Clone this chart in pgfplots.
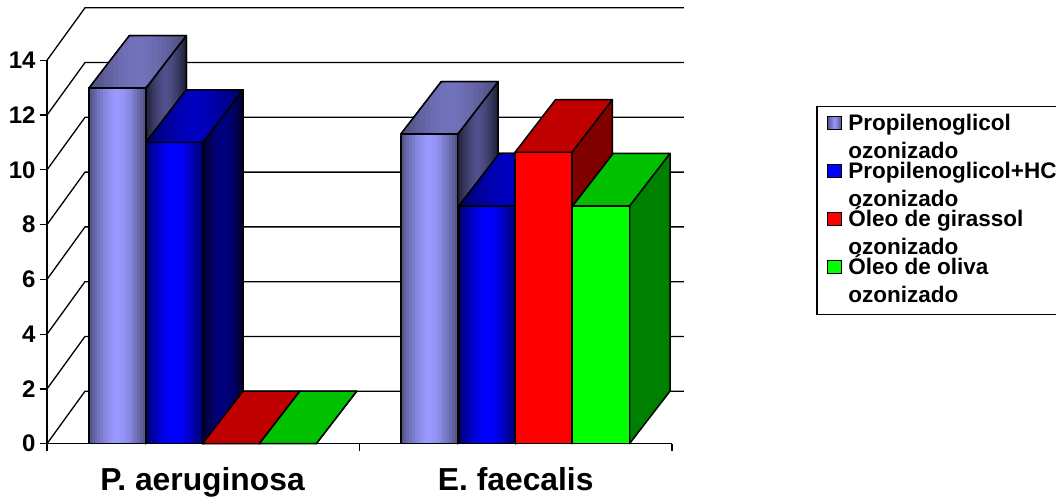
\documentclass[border=0pt]{standalone}
\usepackage{fontspec}
\setmainfont{Liberation Sans}
\usepackage{pgfplots}
\pgfplotsset{compat=1.18}

% Depth of the 3D projection, in axis units
\newcommand{\bdx}{0.1296}
\newcommand{\bdy}{1.92}
\newcommand{\gdx}{0.1216}
\newcommand{\gdy}{1.917}
\newcommand{\gend}{2.038}
\newcommand{\bw}{0.182}

\definecolor{lilacD}{HTML}{55558A}
\definecolor{lilacL}{HTML}{9999FF}
\definecolor{lilacTD}{HTML}{4F4F80}
\definecolor{lilacTL}{HTML}{7272BC}
\definecolor{lilacSD}{HTML}{22223A}
\definecolor{lilacSL}{HTML}{50508A}
\definecolor{blueD}{HTML}{000078}
\definecolor{blueL}{HTML}{0000FF}
\definecolor{blueTD}{HTML}{000068}
\definecolor{blueTL}{HTML}{0000C0}
\definecolor{blueSD}{HTML}{000030}
\definecolor{blueSL}{HTML}{000080}
\definecolor{redT}{HTML}{C00000}
\definecolor{redS}{HTML}{800000}
\definecolor{greenF}{HTML}{00FF00}
\definecolor{greenT}{HTML}{00C000}
\definecolor{greenS}{HTML}{008000}

\pgfplotsset{
  face/.style={forget plot, no markers, draw=black, line width=1.5pt, line join=round},
  strip/.style={forget plot, no markers, draw=none},
  wall/.style={forget plot, no markers, draw=black, line width=1.3pt},
}

% Twenty colour bands across a face: band number and share of the dark colour
\newcommand{\sweep}[1]{%
  #1{0}{100}#1{1}{85}#1{2}{70}#1{3}{55}#1{4}{42}#1{5}{30}#1{6}{20}#1{7}{10}#1{8}{4}#1{9}{0}%
  #1{10}{0}#1{11}{4}#1{12}{10}#1{13}{20}#1{14}{30}#1{15}{42}#1{16}{55}#1{17}{70}#1{18}{85}#1{19}{100}}

% Bands: left edge, value, dark, light, band, share
\newcommand{\frontband}[6]{%
  \addplot[strip, fill=#3!#6!#4] coordinates {
    ({#1+\bw*#5/20},0) ({#1+\bw*min(1,(#5+1.5)/20)},0)
    ({#1+\bw*min(1,(#5+1.5)/20)},#2) ({#1+\bw*#5/20},#2)} -- cycle;}
\newcommand{\sideband}[6]{%
  \addplot[strip, fill=#3!#6!#4] coordinates {
    ({#1+\bw+\bdx*#5/20},{\bdy*#5/20})
    ({#1+\bw+\bdx*min(1,(#5+1.5)/20)},{\bdy*min(1,(#5+1.5)/20)})
    ({#1+\bw+\bdx*min(1,(#5+1.5)/20)},{#2+\bdy*min(1,(#5+1.5)/20)})
    ({#1+\bw+\bdx*#5/20},{#2+\bdy*#5/20})} -- cycle;}
\newcommand{\topband}[6]{%
  \addplot[strip, fill=#3!#6!#4] coordinates {
    ({#1+(\bw+\bdx)*#5/20},{#2+\bdy*max(0,((\bw+\bdx)*#5/20-\bw)/\bdx)})
    ({#1+(\bw+\bdx)*min(1,(#5+1.5)/20)},{#2+\bdy*max(0,((\bw+\bdx)*min(1,(#5+1.5)/20)-\bw)/\bdx)})
    ({#1+(\bw+\bdx)*min(1,(#5+1.5)/20)},{#2+\bdy*min(1,(\bw+\bdx)*min(1,(#5+1.5)/20)/\bdx)})
    ({#1+(\bw+\bdx)*#5/20},{#2+\bdy*min(1,(\bw+\bdx)*#5/20/\bdx)})} -- cycle;}

% Outlines and base fills of the three faces: left edge, value, fill colour
\newcommand{\sideface}[3]{\addplot[face,#3] coordinates {(#1+\bw,0) (#1+\bw+\bdx,\bdy) (#1+\bw+\bdx,#2+\bdy) (#1+\bw,#2)} -- cycle;}
\newcommand{\topface}[3]{\addplot[face,#3] coordinates {(#1,#2) (#1+\bdx,#2+\bdy) (#1+\bw+\bdx,#2+\bdy) (#1+\bw,#2)} -- cycle;}
\newcommand{\frontface}[3]{\addplot[face,#3] coordinates {(#1,0) (#1,#2) (#1+\bw,#2) (#1+\bw,0)} -- cycle;}

% Bar with flat faces: left edge, value, front, top, side colours
\newcommand{\flatbar}[5]{%
  \sideface{#1}{#2}{fill=#5}\topface{#1}{#2}{fill=#4}\frontface{#1}{#2}{fill=#3}}
% Bar with banded faces: left edge, value, colour family
\newcommand{\gradbar}[3]{%
  \sideface{#1}{#2}{fill=#3SD}\sweep{\sideband{#1}{#2}{#3SD}{#3SL}}\sideface{#1}{#2}{}%
  \topface{#1}{#2}{fill=#3TD}\sweep{\topband{#1}{#2}{#3TD}{#3TL}}\topface{#1}{#2}{}%
  \frontface{#1}{#2}{fill=#3D}\sweep{\frontband{#1}{#2}{#3D}{#3L}}\frontface{#1}{#2}{}}

% One level of the back wall with its diagonal on the side wall
\newcommand{\walllevel}[1]{%
  \addplot[wall] coordinates {(0,#1) (\gdx,#1+\gdy) (\gend,#1+\gdy)};
}
\newcommand{\legline}[2]{\parbox[t]{201pt}{\baselineskip=28pt #1\\#2}}
\newcommand{\legkey}[1]{\addlegendimage{legend image code/.code={%
  \path[draw=none] (0pt,0pt) -- (21pt,0pt);
  \draw[line width=1.3pt,black,#1] (0pt,9pt) rectangle (14pt,22.5pt);}}}

\begin{document}
\begin{tikzpicture}[x=1pt,y=1pt]
\useasboundingbox (0,0) rectangle (1056,497);
\begin{axis}[
  at={(47pt,53.3pt)}, anchor=origin,
  scale only axis, width=625pt, height=383.4pt,
  xmin=0, xmax=2, ymin=0, ymax=14,
  clip=false,
  axis x line=bottom, axis y line=left,
  axis line style={-, line width=1.5pt, black},
  tick style={line width=1.3pt, black},
  tick align=outside,
  major tick length=7pt,
  xtick={0,1,2}, xticklabels={,,},
  extra x ticks={0.4976,1.5},
  extra x tick labels={P. aeruginosa,E. faecalis},
  extra x tick style={major tick length=0pt,
    xticklabel style={font=\fontsize{31.8}{31.8}\selectfont\bfseries, anchor=base, yshift=-46.5pt}},
  ytick={0,2,...,14},
  yticklabel style={font=\fontsize{24}{24}\selectfont\bfseries, anchor=east, xshift=-1pt},
  /pgf/number format/assume math mode=true,
  legend cell align=left,
  legend style={
    at={(1.2304,0.8808)}, anchor=north west,
    draw=black, line width=1.5pt,
    font=\fontsize{22.5}{28}\selectfont\bfseries,
    inner xsep=10pt, inner ysep=8pt,
    nodes={inner sep=0pt, text height=16pt, text depth=32pt},
    row sep=0pt,
  },
]
% Legend keys
\legkey{left color=lilacD,right color=lilacD,middle color=lilacL}
\addlegendentry{\legline{Propilenoglicol}{ozonizado}}
\legkey{fill=blue}
\addlegendentry{\legline{Propilenoglicol+HC}{ozonizado}}
\legkey{fill=red}
\addlegendentry{\legline{Óleo de girassol}{ozonizado}}
\legkey{fill=greenF}
\addlegendentry{\legline{Óleo de oliva}{ozonizado}}

% Side and back walls
\walllevel{0}\walllevel{2}\walllevel{4}\walllevel{6}
\walllevel{8}\walllevel{10}\walllevel{12}\walllevel{14}

% P. aeruginosa
\gradbar{0.1340}{12.98}{lilac}
\gradbar{0.3160}{11.0}{blue}
\flatbar{0.4976}{0}{red}{redT}{redS}
\flatbar{0.6796}{0}{greenF}{greenT}{greenS}
% E. faecalis
\gradbar{1.1320}{11.3}{lilac}
\gradbar{1.3180}{8.68}{blue}
\flatbar{1.4976}{10.64}{red}{redT}{redS}
\flatbar{1.6820}{8.68}{greenF}{greenT}{greenS}
\end{axis}
\end{tikzpicture}
\end{document}
